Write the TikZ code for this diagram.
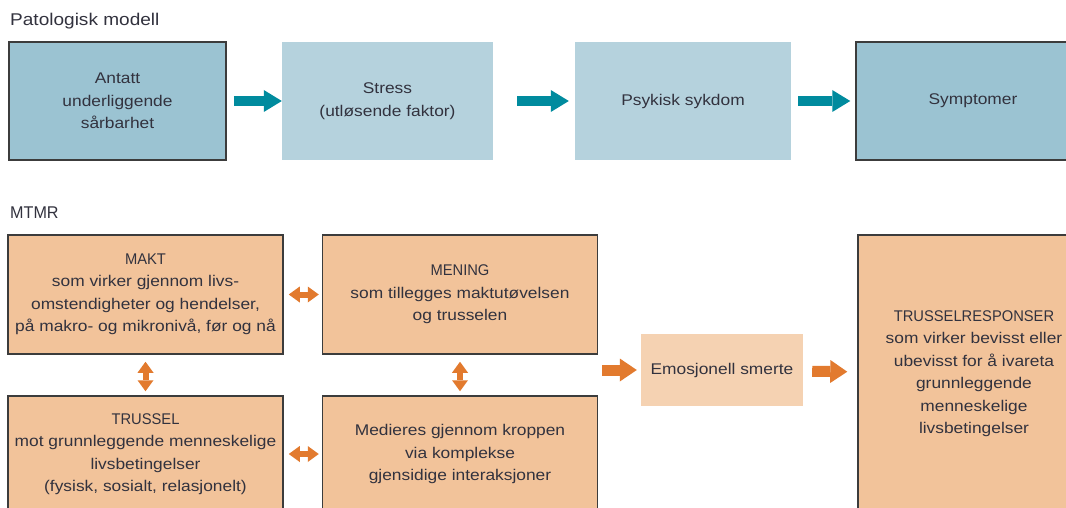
\documentclass[tikz,border=0pt]{standalone}
\usepackage{fontspec}
\setmainfont[FakeStretch=1.12]{Liberation Sans}
\newfontfamily\capsnarrow[FakeStretch=0.95]{Liberation Sans}
\usepackage{tikz}
\usetikzlibrary{arrows.meta,positioning}
\usepackage{xcolor}
\definecolor{pmdark}{RGB}{155,195,210}
\definecolor{pmlight}{RGB}{181,210,221}
\definecolor{pmteal}{RGB}{0,139,158}
\definecolor{mtorange}{RGB}{242,195,154}
\definecolor{mtlight}{RGB}{245,210,178}
\definecolor{mtarrow}{RGB}{226,122,46}
\definecolor{txtgray}{RGB}{50,50,62}
\definecolor{edgegray}{RGB}{60,60,60}
\tikzstyle{tealarrow} = [line width=9.5pt,-{Triangle[length=18pt,width=22pt,line width=0pt]},color=pmteal]
\tikzstyle{orarrow} = [line width=11pt,-{Triangle[length=17pt,width=23pt,line width=0pt]},color=mtarrow]
\tikzstyle{dblarrow} = [line width=6pt,{Triangle[length=11pt,width=16pt,line width=0pt]}-{Triangle[length=11pt,width=16pt,line width=0pt]},color=mtarrow]
\tikzstyle{boxtext} = [rectangle, inner sep=0pt, text centered, align=center, text=txtgray, font=\fontsize{15.5}{22.5}\selectfont]
\tikzstyle{pmbox} = [boxtext, minimum height=118pt, fill=pmlight]
\tikzstyle{pmframe} = [pmbox, fill=pmdark, draw=edgegray, line width=1.5pt]
\tikzstyle{mtbox} = [boxtext, minimum width=275pt, fill=mtorange, draw=edgegray, line width=1.5pt]
\tikzstyle{heading} = [anchor=west, inner sep=0pt, text=txtgray, font=\fontsize{17}{19}\selectfont]

\begin{document}
\begin{tikzpicture}[x=1pt, y=-1pt]
\useasboundingbox[fill=white] (0,0) rectangle (1066,508);

% Patologisk modell
\node[heading] (pmtitle) at (10,21) {Patologisk modell};

\node[pmframe, minimum width=217pt] (antatt) at (117.5,101) {Antatt\\underliggende\\sårbarhet};
\node[pmbox, minimum width=211pt] (stress) at (387.5,101) {Stress\\(utløsende faktor)};
\node[pmbox, minimum width=216pt] (sykdom) at (683,101) {Psykisk sykdom};
\node[pmframe, minimum width=234pt] (symptom) at (973,101) {Symptomer};

\draw[tealarrow, shorten <=7pt, shorten >=0pt] (antatt) -- (stress);
\draw[tealarrow, shorten <=24pt, shorten >=6pt] (stress) -- (sykdom);
\draw[tealarrow, shorten <=7pt, shorten >=5pt] (sykdom) -- (symptom);

% MTMR
\node[heading] (mttitle) at (10,213) {\capsnarrow MTMR};

\node[mtbox, minimum height=119pt] (makt) at (145.5,294.5) {{\capsnarrow MAKT}\\som virker gjennom livs-\\omstendigheter og hendelser,\\på makro- og mikronivå, før og nå};
\node[mtbox, minimum height=119pt] (mening) at (460,294.5) {{\capsnarrow MENING}\\som tillegges maktutøvelsen\\og trusselen};
\node[mtbox, minimum height=116pt] (trussel) at (145.5,454) {{\capsnarrow TRUSSEL}\\mot grunnleggende menneskelige\\livsbetingelser\\(fysisk, sosialt, relasjonelt)};
\node[mtbox, minimum height=116pt] (medieres) at (460,454) {Medieres gjennom kroppen\\via komplekse\\gjensidige interaksjoner};

\node[boxtext, minimum width=162pt, minimum height=72pt, fill=mtlight] (smerte) at (722,370) {Emosjonell smerte};
\node[mtbox, minimum width=232pt, minimum height=277pt] (respons) at (974,373.5) {{\capsnarrow TRUSSELRESPONSER}\\som virker bevisst eller\\ubevisst for å ivareta\\grunnleggende\\menneskelige\\livsbetingelser};

% Arrows between the four boxes
\draw[dblarrow, shorten <=5pt, shorten >=3pt] (makt) -- (mening);
\draw[dblarrow, shorten <=5pt, shorten >=3pt] (trussel) -- (medieres);
\draw[dblarrow, shorten <=7pt, shorten >=4pt] (makt) -- (trussel);
\draw[dblarrow, shorten <=7pt, shorten >=4pt] (mening) -- (medieres);

\coordinate (quad) at (597,370);
\draw[orarrow, shorten <=5pt, shorten >=4pt] (quad) -- (smerte);
\draw[orarrow, shorten <=9pt, shorten >=10pt] (smerte) -- (respons);
\end{tikzpicture}
\end{document}
